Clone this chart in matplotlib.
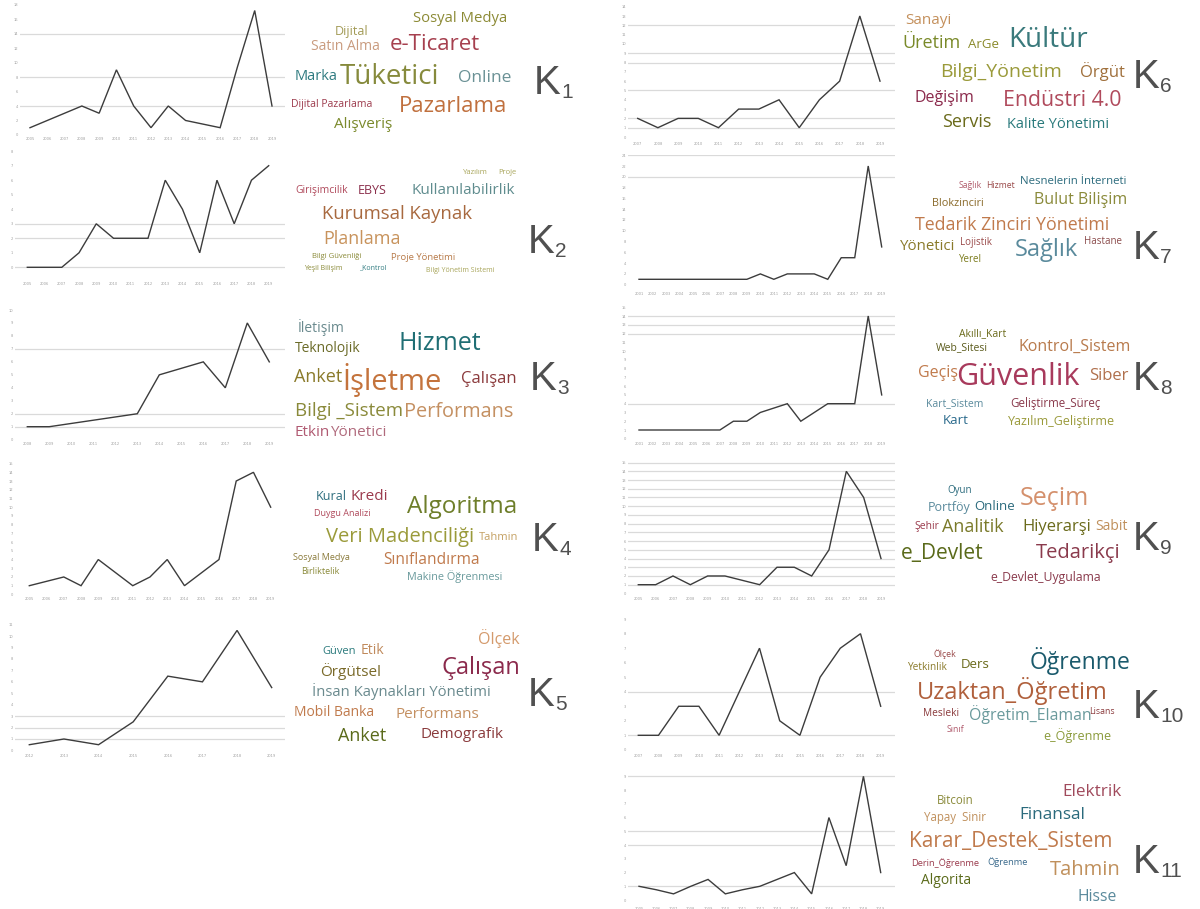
import matplotlib
matplotlib.use("Agg")
import matplotlib.pyplot as plt

W, H = 1200, 909
fig = plt.figure(figsize=(12, 9.09), dpi=100)
fig.patch.set_facecolor("white")

# ---------------- data ----------------
K1_years = ["2005", "2006", "2007", "2008", "2009", "2010", "2011", "2012", "2013", "2014", "2015", "2016", "2017", "2018", "2019"]
K1_values = [1, 2, 3, 4, 3, 9, 4, 1, 4, 2, 1.5, 1, 9.4, 17.2, 4]

K2_years = ["2005", "2006", "2007", "2008", "2009", "2010", "2011", "2012", "2013", "2014", "2015", "2016", "2017", "2018", "2019"]
K2_values = [0, 0, 0, 1, 3, 2, 2, 2, 6, 4, 1, 6, 3, 6, 7]

K3_years = ["2008", "2009", "2010", "2011", "2012", "2013", "2014", "2015", "2016", "2017", "2018", "2019"]
K3_values = [1, 1, 1.25, 1.5, 1.75, 2, 5, 5.5, 6, 4, 9, 6]

K4_years = ["2005", "2006", "2007", "2008", "2009", "2010", "2011", "2012", "2013", "2014", "2015", "2016", "2017", "2018", "2019"]
K4_values = [1, 1.5, 2, 1, 4, 2.5, 1, 2, 4, 1, 2.5, 4, 13, 14, 10]

K5_years = ["2012", "2013", "2014", "2015", "2016", "2017", "2018", "2019"]
K5_values = [0.5, 1, 0.5, 2.5, 6.5, 6, 10.5, 5.5]

K6_years = ["2007", "2008", "2009", "2010", "2011", "2012", "2013", "2014", "2015", "2016", "2017", "2018", "2019"]
K6_values = [2, 1, 2, 2, 1, 3, 3, 4, 1, 4, 6, 13, 6]

K7_years = ["2001", "2002", "2003", "2004", "2005", "2006", "2007", "2008", "2009", "2010",
            "2011", "2012", "2013", "2014", "2015", "2016", "2017", "2018", "2019"]
K7_values = [1, 1, 1, 1, 1, 1, 1, 1, 1, 2, 1, 2, 2, 2, 1, 5, 5, 22, 7]

K8_years = ["2001", "2002", "2003", "2004", "2005", "2006", "2007", "2008", "2009", "2010",
            "2011", "2012", "2013", "2014", "2015", "2016", "2017", "2018", "2019"]
K8_values = [1, 1, 1, 1, 1, 1, 1, 2, 2, 3, 3.5, 4, 2, 3, 4, 4, 4, 14, 5]

K9_years = ["2005", "2006", "2007", "2008", "2009", "2010", "2011", "2012", "2013", "2014", "2015", "2016", "2017", "2018", "2019"]
K9_values = [1, 1, 2, 1, 2, 2, 1.5, 1, 3, 3, 2, 5, 14, 11, 4]

K10_years = ["2007", "2008", "2009", "2010", "2011", "2012", "2013", "2014", "2015", "2016", "2017", "2018", "2019"]
K10_values = [1, 1, 3, 3, 1, 4, 7, 2, 1, 5, 7, 8, 3]

K11_years = ["2005", "2006", "2007", "2008", "2009", "2010", "2011", "2012", "2013", "2014", "2015", "2016", "2017", "2018", "2019"]
K11_values = [1, 0.75, 0.45, 1, 1.5, 0.45, 0.75, 1, 1.5, 2, 0.45, 6, 2.5, 9, 2]

K1_words = ["Sosyal Medya", "Dijital", "Satın Alma", "e-Ticaret", "Marka", "Tüketici", "Online",
            "Dijital Pazarlama", "Pazarlama", "Alışveriş"]
K2_words = ["Yazılım", "Proje", "Girişimcilik", "EBYS", "Kullanılabilirlik", "Kurumsal Kaynak", "Planlama",
            "Bilgi Güvenliği", "Proje Yönetimi", "Yeşil Bilişim", "_Kontrol", "Bilgi Yönetim Sistemi"]
K3_words = ["İletişim", "Hizmet", "Teknolojik", "Anket", "İşletme", "Çalışan", "Bilgi _Sistem",
            "Performans", "Etkin", "Yönetici"]
K4_words = ["Kural", "Kredi", "Algoritma", "Duygu Analizi", "Veri Madenciliği", "Tahmin",
            "Sınıflandırma", "Sosyal Medya", "Birliktelik", "Makine Öğrenmesi"]
K5_words = ["Ölçek", "Güven", "Etik", "Örgütsel", "Çalışan", "İnsan Kaynakları Yönetimi",
            "Mobil Banka", "Performans", "Anket", "Demografik"]
K6_words = ["Sanayi", "Üretim", "ArGe", "Kültür", "Bilgi_Yönetim", "Örgüt", "Değişim",
            "Endüstri 4.0", "Servis", "Kalite Yönetimi"]
K7_words = ["Sağlık", "Hizmet", "Nesnelerin İnterneti", "Blokzinciri", "Bulut Bilişim",
            "Tedarik Zinciri Yönetimi", "Yönetici", "Lojistik", "Sağlık", "Hastane", "Yerel"]
K8_words = ["Akıllı_Kart", "Web_Sitesi", "Kontrol_Sistem", "Geçiş", "Güvenlik", "Siber",
            "Kart_Sistem", "Geliştirme_Süreç", "Kart", "Yazılım_Geliştirme"]
K9_words = ["Oyun", "Portföy", "Online", "Seçim", "Şehir", "Analitik", "Hiyerarşi", "Sabit",
            "e_Devlet", "Tedarikçi", "e_Devlet_Uygulama"]
K10_words = ["Ölçek", "Yetkinlik", "Ders", "Öğrenme", "Uzaktan_Öğretim", "Mesleki", "Sınıf",
             "Öğretim_Elaman", "Lisans", "e_Öğrenme"]
K11_words = ["Elektrik", "Bitcoin", "Yapay  Sinir", "Finansal", "Karar_Destek_Sistem",
             "Derin_Öğrenme", "Öğrenme", "Tahmin", "Algorita", "Hisse"]

cluster_names = ["K1", "K2", "K3", "K4", "K5", "K6", "K7", "K8", "K9", "K10", "K11"]

# ---------------- layout / style ----------------
CHART_LAYOUT = {
    "K1": (30, 272, (1, 127.7), (4, 106.0), (20, 285, 2, 135)),
    "K2": (27.3, 268.7, (0, 267.3), (7, 165.7), (15, 285, 150, 280)),
    "K3": (27.3, 269.3, (1, 426.7), (10, 310.0), (15, 285, 305, 440)),
    "K4": (29.3, 270.7, (1, 585.7), (14, 472.3), (15, 285, 462, 595)),
    "K5": (29.3, 271.7, (1, 739.0), (11, 624.7), (15, 285, 620, 752)),
    "K6": (637.7, 880, (1, 127.7), (13, 16.0), (628, 895, 3, 140)),
    "K7": (639, 881.7, (1, 279.3), (22, 166.0), (628, 895, 155, 290)),
    "K8": (639, 881.7, (1, 430.0), (14, 316.0), (628, 895, 303, 440)),
    "K9": (638.3, 881, (1, 584.7), (14, 471.3), (628, 895, 460, 595)),
    "K10": (638.3, 880.7, (1, 735.3), (8, 633.7), (628, 895, 615, 752)),
    "K11": (639, 880.7, (1, 886.3), (9, 776.3), (628, 895, 770, 905)),
}
GRID_LEVELS = {
    "K1": [4, 8, 14], "K2": [0, 2, 3], "K3": [1, 2, 7], "K4": [],
    "K5": [1, 2, 3], "K6": [1, 2, 5, 8, 9, 12], "K7": [20, 24], "K8": [4, 12, 13, 14],
    "K9": [1, 2, 3, 4, 5, 6, 7, 8, 9, 10, 11, 12, 13, 14, 15], "K10": [1, 4], "K11": [1, 4, 5, 9],
}
YTICKS = {
    "K1": [0, 2, 4, 6, 8, 10, 12, 14, 16, 18], "K2": [0, 1, 2, 3, 4, 5, 6, 7, 8],
    "K3": [0, 1, 2, 3, 4, 5, 6, 7, 8, 9, 10], "K4": list(range(0, 16)),
    "K5": list(range(0, 12)), "K6": list(range(0, 15)), "K7": list(range(0, 25, 2)),
    "K8": list(range(0, 16)), "K9": list(range(0, 16)), "K10": list(range(0, 10)),
    "K11": list(range(0, 10)),
}

CLOUD_LAYOUT = {
    "K1": [(460, 19, 10.7, "#8c8a35"), (352, 31, 9, "#a29a55"), (345, 46, 10, "#c99b7e"),
           (435, 44, 16, "#a6404f"), (316, 76, 10.5, "#2f7b80"), (390, 77, 20, "#868a3c"),
           (485, 78, 12.5, "#6a9195"), (332, 104, 7.5, "#9c3a4c"), (453, 107, 16, "#c0703e"),
           (363, 124, 11, "#7b8a2c")],
    "K2": [(475, 172, 5.5, "#a8a55a"), (507, 172, 5.5, "#a8a55a"), (322, 190, 7.5, "#b04a5c"),
           (372, 190, 9, "#8b2f4c"), (463, 190, 11, "#5f8c8e"), (397, 214, 13.3, "#a8693f"),
           (362, 239, 13, "#c8935c"), (337, 257, 5.5, "#8a8a38"), (423, 258, 6.8, "#b87b4a"),
           (323, 268, 5, "#8a8a38"), (373, 268, 5, "#2f7b80"), (460, 271, 5, "#a8a55a")],
    "K3": [(321, 327, 10, "#6a8a8e"), (440, 343, 18, "#1f6e74"), (328, 349, 10, "#6b6b28"),
           (318, 377, 13, "#8a7a2a"), (392, 380, 21, "#c4733c"), (489, 379, 12, "#8b3a3c"),
           (349, 411, 13.5, "#8a8a3a"), (459, 412, 14.3, "#c49062"), (312, 432, 11, "#b05a72"),
           (358, 432, 11, "#b06a7c")],
    "K4": [(331, 497, 9, "#2e6e7e"), (369, 497, 11, "#9b3a4c"), (462, 507, 17.5, "#6e7e2a"),
           (342, 514, 6.5, "#b04a5c"), (400, 537, 14.5, "#9a9a3a"), (499, 537, 8, "#c4a062"),
           (432, 560, 11.2, "#c07a4c"), (321, 557, 6.5, "#8a7a3a"), (320, 571, 6.5, "#8a8a3a"),
           (455, 577, 7.8, "#6a9a9c")],
    "K5": [(499, 639, 11.5, "#d49a6c"), (339, 651, 8, "#2a7a7c"), (372, 650, 10, "#c08a5c"),
           (351, 671, 11, "#7a6a2a"), (481, 668, 17, "#8b2a4c"), (401, 692, 10.7, "#6a8a8e"),
           (334, 713, 10, "#c07a4c"), (437, 714, 11, "#c49062"), (362, 736, 13, "#5a6a1a"),
           (462, 735, 11, "#8a3a3c")],
    "K6": [(928, 20, 11, "#c4905c"), (931, 43, 13, "#7a8a2a"), (984, 45, 9.5, "#8a8a2a"),
           (1048, 40, 20, "#3a7a7c"), (1001, 72, 14, "#9a9a3a"), (1102, 72, 12, "#a0703c"),
           (944, 98, 11.5, "#8b2a4c"), (1062, 100, 15.3, "#b04a5c"), (967, 122, 13, "#6a6a1a"),
           (1058, 124, 10.5, "#2a7a7c")],
    "K7": [(970, 186, 6.2, "#b05a6a"), (1000, 186, 6.2, "#9a4a4a"), (1073, 182, 8.2, "#2a6a7c"),
           (958, 203, 7.8, "#8a6a2a"), (1081, 200, 11.5, "#8a8a3a"), (1012, 225, 12.8, "#c07a4c"),
           (928, 246, 10.8, "#8a7a2a"), (976, 243, 7, "#9a4a4a"), (1046, 250, 17, "#5a8a9c"),
           (1103, 242, 7, "#8a4a4a"), (970, 260, 7, "#7a7a1a")],
    "K8": [(983, 334, 7.5, "#6a6a1a"), (962, 348, 7.5, "#5a5a1a"), (1075, 347, 11.5, "#b87a4c"),
           (938, 373, 11.5, "#c07a4c"), (1018, 377, 22, "#a83a5c"), (1109, 376, 12, "#b0704c"),
           (955, 404, 7.5, "#5a8a9c"), (1055, 403, 8.3, "#8a3a4c"), (956, 420, 9.5, "#2a6a8c"),
           (1062, 421, 9, "#9a9a3a")],
    "K9": [(960, 491, 7, "#2a6a7c"), (949, 507, 9, "#5a8a9c"), (995, 507, 9.5, "#2a6a7c"),
           (1054, 499, 18, "#d4906c"), (927, 527, 7.5, "#9a3a4c"), (973, 527, 13, "#7a7a2a"),
           (1057, 527, 12, "#6a6a1a"), (1112, 527, 10, "#c0905c"), (942, 553, 15, "#5a6a1a"),
           (1078, 553, 14.5, "#8a3a4c"), (1046, 577, 8.8, "#8a3a4c")],
    "K10": [(945, 654, 6.3, "#9a4a4a"), (927, 667, 7.3, "#8a7a2a"), (975, 665, 9.5, "#6a6a1a"),
            (1080, 661, 16.5, "#1a5a6c"), (1012, 691, 17, "#b0603c"), (941, 714, 7.3, "#8a3a3c"),
            (955, 729, 6.3, "#b05a6c"), (1030, 715, 11.4, "#6a9a9c"), (1102, 711, 6.3, "#8a3a3c"),
            (1077, 736, 9, "#8a9a3a")],
    "K11": [(1092, 792, 12.3, "#a04a5c"), (955, 800, 8.3, "#8a8a3a"), (955, 818, 8.3, "#c0905c"),
            (1052, 815, 12.3, "#2a6a7c"), (1011, 841, 15, "#c07a4c"), (945, 863, 6.7, "#9a3a4c"),
            (1008, 862, 6.7, "#3a6a8c"), (1085, 870, 14.5, "#c0905c"), (946, 881, 10, "#5a6a1a"),
            (1097, 897, 11.3, "#5a8a9c")],
}
LABEL_LAYOUT = {
    "K1": (534, 94), "K2": (528, 253), "K3": (530, 390), "K4": (532, 551), "K5": (528, 706),
    "K6": (1133, 88), "K7": (1133, 259), "K8": (1133, 390), "K9": (1133, 550),
    "K10": (1133, 718), "K11": (1133, 873),
}

SERIES = {
    "K1": (K1_years, K1_values), "K2": (K2_years, K2_values), "K3": (K3_years, K3_values),
    "K4": (K4_years, K4_values), "K5": (K5_years, K5_values), "K6": (K6_years, K6_values),
    "K7": (K7_years, K7_values), "K8": (K8_years, K8_values), "K9": (K9_years, K9_values),
    "K10": (K10_years, K10_values), "K11": (K11_years, K11_values),
}
WORDS = {
    "K1": K1_words, "K2": K2_words, "K3": K3_words, "K4": K4_words, "K5": K5_words,
    "K6": K6_words, "K7": K7_words, "K8": K8_words, "K9": K9_words, "K10": K10_words,
    "K11": K11_words,
}


def fx(px):
    return px / W


def fy(py):
    return 1 - py / H


def place_chart(name):
    labels, values = SERIES[name]
    first, last, (va, pa), (vb, pb), (xl, xr, yt, yb) = CHART_LAYOUT[name]
    n = len(values)
    dx = (last - first) / (n - 1)
    s = (pa - pb) / (vb - va)
    ax = fig.add_axes([fx(xl), fy(yb), (xr - xl) / W, (yb - yt) / H])
    ax.set_xlim((xl - first) / dx, (xr - first) / dx)
    ax.set_ylim(va - (yb - pa) / s, va + (pa - yt) / s)
    for g in GRID_LEVELS[name]:
        ax.axhline(g, color="#dadada", lw=0.9, zorder=1)
    ax.plot(range(n), values, color="#3c3c3c", lw=1.0, zorder=3, solid_joinstyle="miter")
    ax.set_xticks(range(n))
    ax.set_xticklabels(labels, fontsize=2.6, color="#a0a0a0")
    ax.set_yticks(YTICKS[name])
    ax.set_yticklabels([str(t) for t in YTICKS[name]], fontsize=2.6, color="#a0a0a0")
    ax.tick_params(length=0, pad=1.5)
    for sp in ax.spines.values():
        sp.set_visible(False)
    ax.patch.set_alpha(0)


def place_cloud(name):
    for word, (x, y, size, color) in zip(WORDS[name], CLOUD_LAYOUT[name]):
        fig.text(fx(x), fy(y), word, fontsize=size, color=color, family="Open Sans",
                 ha="center", va="center")


def place_label(name):
    x, base = LABEL_LAYOUT[name]
    fig.text(fx(x), fy(base), "K", fontsize=29, color="#505050",
             family="Liberation Sans", ha="left", va="baseline")
    fig.text(fx(x + 27), fy(base + 4), name[1:], fontsize=15, color="#505050",
             family="Liberation Sans", ha="left", va="baseline")


for name in cluster_names:
    place_chart(name)
    place_cloud(name)
    place_label(name)

fig.savefig("out.png", dpi=100, facecolor="white")
